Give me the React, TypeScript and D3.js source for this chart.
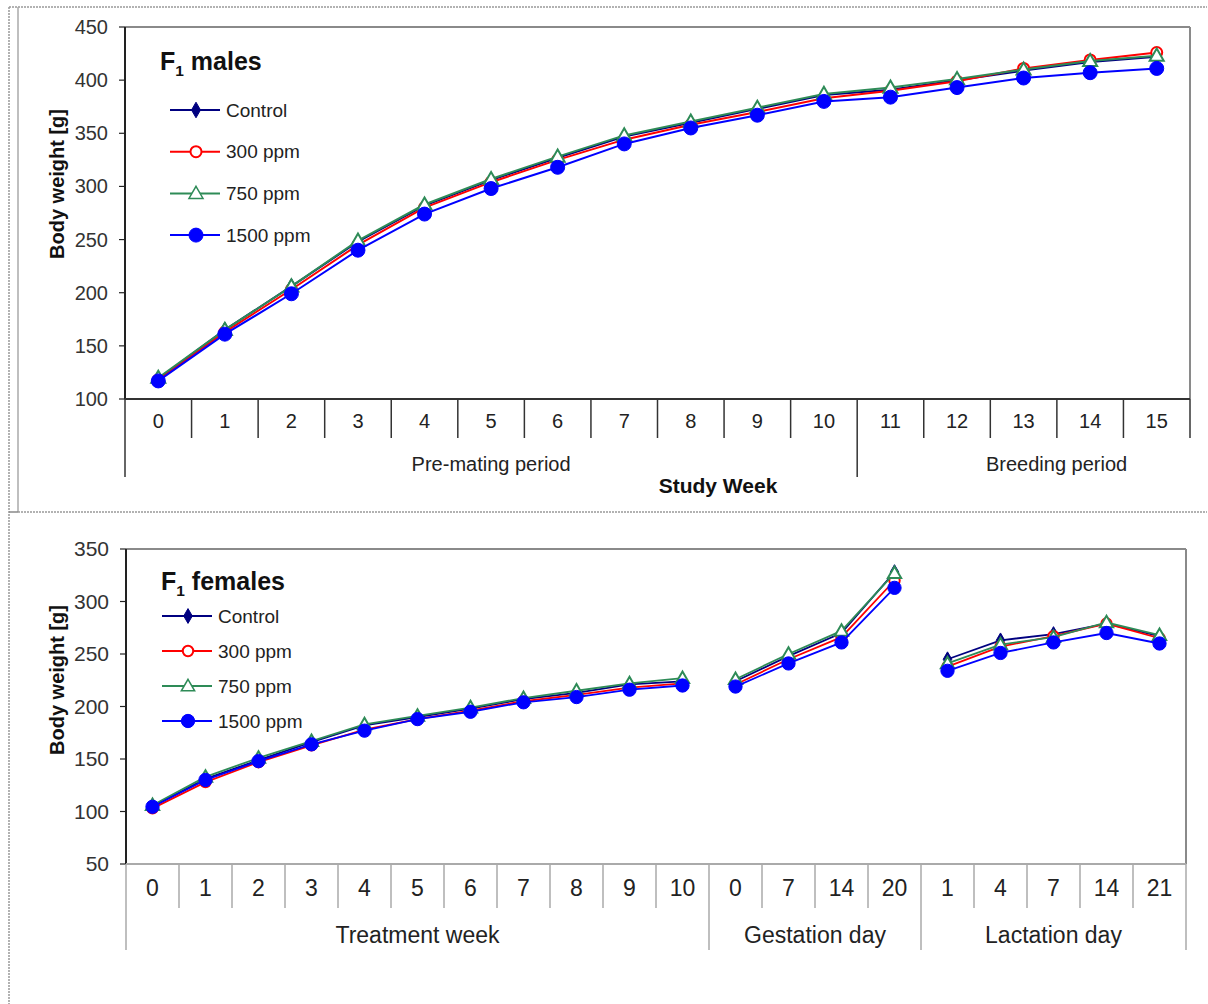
import React from "react";
import * as d3 from "d3";

// ---------- DATA ----------
const seriesNames = ["Control", "300 ppm", "750 ppm", "1500 ppm"];

// Top panel (F1 males)
const maleWeeks = ["0","1","2","3","4","5","6","7","8","9","10","11","12","13","14","15"];
const maleGroups = [
  { label: "Pre-mating period", n: 11 },
  { label: "Breeding period", n: 5 },
];
const maleControl = [119,165,206,248,282,306,327,347,360,373,386,391,400,409,417,422];
const male300 =     [118,163,203,245,280,304,325,344,358,370,383,390,399,411,419,426];
const male750 =     [120,165,206,249,283,307,328,348,361,374,387,393,401,410,418,423];
const male1500 =    [117,161,199,240,274,298,318,340,355,367,380,384,393,402,407,411];
const maleYTicks = [100,150,200,250,300,350,400,450];

// Bottom panel (F1 females)
const femaleDays = ["0","1","2","3","4","5","6","7","8","9","10","0","7","14","20","1","4","7","14","21"];
const femaleGroups = [
  { label: "Treatment week", n: 11 },
  { label: "Gestation day", n: 4 },
  { label: "Lactation day", n: 5 },
];
const femaleControl = [105,131,149,166,182,190,198,207,213,221,224, 224,248,270,328, 245,263,269,279,267];
const female300 =     [103,128,147,163,178,188,196,205,211,218,222, 221,245,266,320, 238,257,267,279,265];
const female750 =     [106,133,151,167,183,191,199,208,215,222,227, 226,250,272,327, 241,259,266,280,268];
const female1500 =    [104.5,130,148,164,177,188,195,204,209,216,220, 219,241,261,313, 234,251,261,270,260];
const femaleYTicks = [50,100,150,200,250,300,350];

// ---------- STYLE ----------
const FONT = "'Liberation Sans', Arial, Helvetica, sans-serif";
const styles = [
  { color: "#000080", symbol: "diamond", fill: "#000080" },
  { color: "#FF0000", symbol: "circle", fill: "#ffffff" },
  { color: "#2E8B57", symbol: "triangle", fill: "#ffffff" },
  { color: "#0000FF", symbol: "circle", fill: "#0000FF" },
];

type PanelProps = {
  title: string;
  cats: string[];
  groups: { label: string; n: number }[];
  series: number[][];
  yTicks: number[];
  left: number; right: number; top: number; bottom: number;
  tickBottom: number; groupBottom: number; groupLabelY: number;
  groupLabelOffsets: number[];
  rightLong: boolean;
  breakLines: boolean;
  tickColor: string;
  xTitle?: string; xTitleX?: number; xTitleY?: number;
  legendX: number; legendY0: number; legendDy: number;
  titleY: number; titleSize: number;
  yTitleY: number;
  yTickSize: number; catSize: number; groupSize: number; legendSize: number; yTitleSize: number;
  markerScale: number;
  lineWidth: number;
};

function Marker({ kind, x, y, color, fill, s, sw }: any) {
  if (kind === "circle") {
    const r = fill === "#ffffff" ? 5.5 * s : 7 * s;
    return <circle cx={x} cy={y} r={r} fill={fill} stroke={color} strokeWidth={fill === "#ffffff" ? 2 : 1} />;
  }
  if (kind === "diamond") {
    const p = d3.symbol(d3.symbolDiamond, 70 * s * s)();
    return <path d={p as string} transform={`translate(${x},${y})`} fill={fill} stroke={color} strokeWidth={1} />;
  }
  const p = d3.symbol(d3.symbolTriangle, 85 * s * s)();
  return <path d={p as string} transform={`translate(${x},${y + 1})`} fill={fill} stroke={color} strokeWidth={sw} />;
}

function Panel(p: PanelProps) {
  const x = d3.scaleBand<number>().domain(d3.range(p.cats.length)).range([p.left, p.right]).padding(0);
  const yMin = p.yTicks[0], yMax = p.yTicks[p.yTicks.length - 1];
  const y = d3.scaleLinear().domain([yMin, yMax]).range([p.bottom, p.top]);
  const bw = x.bandwidth();
  const cx = (i: number) => (x(i) as number) + bw / 2;

  let start = 0;
  const ranges = p.groups.map((g) => {
    const r = { ...g, s: start, e: start + g.n };
    start += g.n;
    return r;
  });
  const lineRanges = p.breakLines ? ranges : [{ s: 0, e: p.cats.length }];
  const line = d3.line<[number, number]>().x((d) => cx(d[0])).y((d) => y(d[1]));
  const boundaryIdx = new Set(ranges.map((r) => r.s));

  return (
    <g>
      <line x1={p.left} x2={p.right} y1={p.top} y2={p.top} stroke="#8a8a8a" strokeWidth={2} />
      <line x1={p.right} x2={p.right} y1={p.top} y2={p.bottom} stroke="#8a8a8a" strokeWidth={2} />
      <line x1={p.left} x2={p.left} y1={p.top} y2={p.bottom} stroke="#222" strokeWidth={2} />
      {p.yTicks.map((t) => (
        <g key={t}>
          <line x1={p.left - 6} x2={p.left} y1={y(t)} y2={y(t)} stroke="#222" strokeWidth={1.2} />
          <text x={p.left - 17} y={y(t)} dy="0.35em" textAnchor="end" fontSize={p.yTickSize} fill="#333" fontFamily={FONT}>{t}</text>
        </g>
      ))}
      <line x1={p.left} x2={p.right} y1={p.bottom} y2={p.bottom} stroke={p.tickColor} strokeWidth={2} />
      {d3.range(p.cats.length + 1).map((i) => {
        const xx = i < p.cats.length ? (x(i) as number) : p.right;
        const isLong = boundaryIdx.has(i) || (i === p.cats.length && p.rightLong);
        return <line key={i} x1={xx} x2={xx} y1={p.bottom} y2={isLong ? p.groupBottom : p.tickBottom} stroke={p.tickColor} strokeWidth={1.5} />;
      })}
      {p.cats.map((c, i) => (
        <text key={i} x={cx(i)} y={(p.bottom + p.tickBottom) / 2 + 2} dy="0.35em" textAnchor="middle" fontSize={p.catSize} fill="#222" fontFamily={FONT}>{c}</text>
      ))}
      {ranges.map((r, gi) => (
        <text key={gi} x={((x(r.s) as number) + (r.e < p.cats.length ? (x(r.e) as number) : p.right)) / 2 + p.groupLabelOffsets[gi]} y={p.groupLabelY} dy="0.35em" textAnchor="middle" fontSize={p.groupSize} fill="#222" fontFamily={FONT}>{r.label}</text>
      ))}
      {p.xTitle && (
        <text x={p.xTitleX} y={p.xTitleY} dy="0.35em" textAnchor="middle" fontSize={21} fontWeight="bold" fill="#111" fontFamily={FONT}>{p.xTitle}</text>
      )}
      <text transform={`translate(57,${p.yTitleY}) rotate(-90)`} dy="0.35em" textAnchor="middle" fontSize={p.yTitleSize} fontWeight="bold" fill="#111" fontFamily={FONT}>Body weight [g]</text>
      <text x={p.left + 35} y={p.titleY} fontSize={p.titleSize} fontWeight="bold" fill="#111" fontFamily={FONT}>
        F<tspan fontSize={p.titleSize * 0.62} dy={6}>1</tspan><tspan dy={-6}> {p.title}</tspan>
      </text>
      {p.series.map((vals, si) => (
        <g key={si}>
          {lineRanges.map((r, gi) => {
            const pts: [number, number][] = d3.range(r.s, r.e).map((i) => [i, vals[i]]);
            return <path key={gi} d={line(pts) as string} fill="none" stroke={styles[si].color} strokeWidth={p.lineWidth} />;
          })}
          {vals.map((v, i) => (
            <Marker key={i} kind={styles[si].symbol} x={cx(i)} y={y(v)} color={styles[si].color} fill={styles[si].fill} s={p.markerScale} sw={2} />
          ))}
        </g>
      ))}
      {seriesNames.map((n, si) => {
        const ly = p.legendY0 + si * p.legendDy;
        return (
          <g key={n}>
            <line x1={p.legendX} x2={p.legendX + 50} y1={ly} y2={ly} stroke={styles[si].color} strokeWidth={p.lineWidth} />
            <Marker kind={styles[si].symbol} x={p.legendX + 26} y={ly} color={styles[si].color} fill={styles[si].fill} s={p.markerScale} sw={1.5} />
            <text x={p.legendX + 56} y={ly} dy="0.35em" fontSize={p.legendSize} fill="#222" fontFamily={FONT}>{n}</text>
          </g>
        );
      })}
    </g>
  );
}

export default function App() {
  return (
    <svg width={1208} height={1004} style={{ position: "absolute", left: 0, top: 0, background: "#fff" }}>
      <rect x={0} y={0} width={1208} height={1004} fill="#fff" />
      <line x1={9} x2={1207} y1={7} y2={7} stroke="#999" strokeWidth={1.5} strokeDasharray="2,1" />
      <line x1={9} x2={9} y1={7} y2={1004} stroke="#999" strokeWidth={1.5} strokeDasharray="2,1" />
      <line x1={18} x2={18} y1={7} y2={512} stroke="#aaa" strokeWidth={1.5} />
      <line x1={9} x2={18} y1={512} y2={512} stroke="#888" strokeWidth={1.5} />
      <line x1={18} x2={1207} y1={512} y2={512} stroke="#999" strokeWidth={1.5} strokeDasharray="2,1" />
      <Panel
        title="males" cats={maleWeeks} groups={maleGroups}
        series={[maleControl, male300, male750, male1500]} yTicks={maleYTicks}
        left={125} right={1190} top={27} bottom={399}
        tickBottom={438} groupBottom={477} groupLabelY={464} groupLabelOffsets={[0, 33]}
        rightLong={false} breakLines={false} tickColor="#333"
        xTitle="Study Week" xTitleX={718} xTitleY={486}
        legendX={170} legendY0={110} legendDy={41.7} titleY={70} titleSize={25} yTitleY={184}
        yTickSize={20} catSize={20} groupSize={20} legendSize={19} yTitleSize={20}
        markerScale={1} lineWidth={2}
      />
      <Panel
        title="females" cats={femaleDays} groups={femaleGroups}
        series={[femaleControl, female300, female750, female1500]} yTicks={femaleYTicks}
        left={126} right={1186} top={549} bottom={864}
        tickBottom={908} groupBottom={950} groupLabelY={935} groupLabelOffsets={[0, 0, 0]}
        rightLong={true} breakLines={true} tickColor="#aaa"
        legendX={162} legendY0={616} legendDy={35} titleY={590} titleSize={25} yTitleY={680}
        yTickSize={21} catSize={23} groupSize={23} legendSize={19} yTitleSize={20}
        markerScale={0.95} lineWidth={1.8}
      />
    </svg>
  );
}
